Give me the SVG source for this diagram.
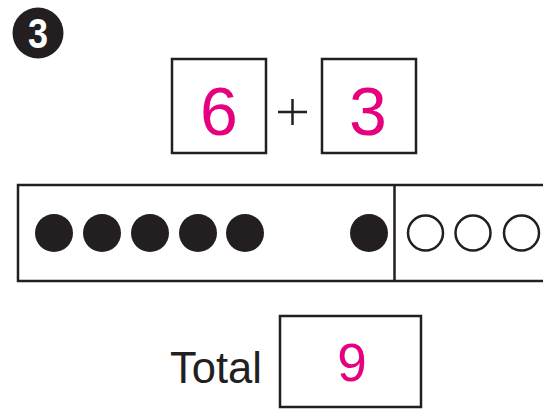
<svg xmlns="http://www.w3.org/2000/svg" width="543" height="409" viewBox="0 0 543 409">
<style>
.box{fill:#fff;stroke:#231f20;stroke-width:2.5}
.num{font-family:"Liberation Sans",Arial,sans-serif;fill:#e6007e;font-size:68px;text-anchor:middle}
.full{fill:#231f20}
.empty{fill:#fff;stroke:#231f20;stroke-width:2.5}
</style>
<rect width="543" height="409" fill="#fff"/>
<g id="badge">
<circle cx="38" cy="33" r="25.5" fill="#231f20"/>
<text x="38" y="48" font-family="Liberation Sans,Arial,sans-serif" font-weight="bold" font-size="42" fill="#fff" text-anchor="middle" textLength="20" lengthAdjust="spacingAndGlyphs">3</text>
</g>
<g id="box-six">
<rect class="box" x="172" y="59" width="94" height="94"/>
<text class="num" x="219" y="135">6</text>
</g>
<g id="plus">
<path d="M278 112H307M292.5 99V125" stroke="#231f20" stroke-width="2.5" fill="none"/>
</g>
<g id="box-three">
<rect class="box" x="322" y="59" width="94" height="94"/>
<text class="num" x="368" y="135">3</text>
</g>
<g id="ten-frame">
<rect class="box" x="18" y="185" width="530" height="96"/>
<line x1="394.5" y1="185" x2="394.5" y2="281" stroke="#231f20" stroke-width="2.5"/>
<circle class="full" cx="54" cy="233" r="19"/>
<circle class="full" cx="102" cy="233" r="19"/>
<circle class="full" cx="150" cy="233" r="19"/>
<circle class="full" cx="198" cy="233" r="19"/>
<circle class="full" cx="245" cy="233" r="19"/>
<circle class="full" cx="369" cy="233" r="19"/>
<circle class="empty" cx="425.5" cy="233" r="17.5"/>
<circle class="empty" cx="473" cy="233" r="17.5"/>
<circle class="empty" cx="521.5" cy="233" r="17.5"/>
</g>
<g id="total">
<text x="170" y="383" font-family="Liberation Sans,Arial,sans-serif" font-size="45" fill="#231f20" textLength="92" lengthAdjust="spacingAndGlyphs">Total</text>
<rect class="box" x="280" y="316" width="141" height="91"/>
<text class="num" x="352" y="381" style="font-size:53px">9</text>
</g>
</svg>
